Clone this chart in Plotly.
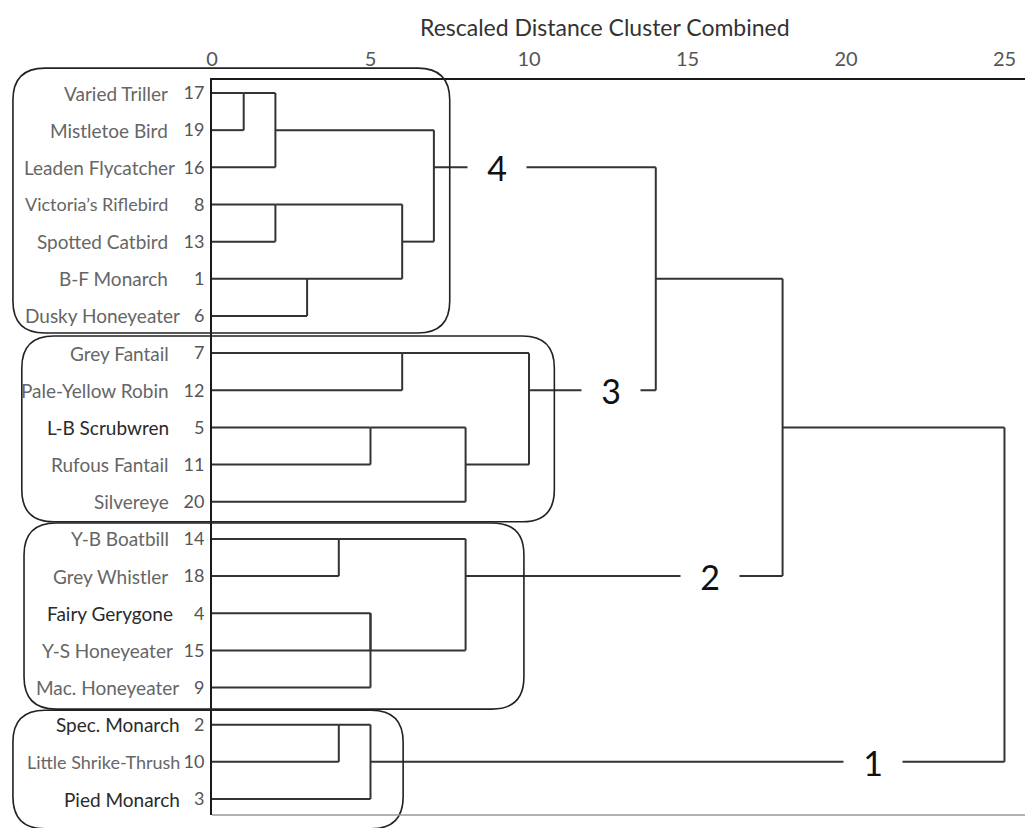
import math
import plotly.graph_objects as go

# ---------------- data ----------------
leaf_ids = [17, 19, 16, 8, 13, 1, 6, 7, 12, 5, 11, 20, 14, 18, 4, 15, 9, 2, 10, 3]
leaf_names = ["Varied Triller", "Mistletoe Bird", "Leaden Flycatcher", "Victoria\u2019s Riflebird",
              "Spotted Catbird", "B-F Monarch", "Dusky Honeyeater", "Grey Fantail",
              "Pale-Yellow Robin", "L-B Scrubwren", "Rufous Fantail", "Silvereye",
              "Y-B Boatbill", "Grey Whistler", "Fairy Gerygone", "Y-S Honeyeater",
              "Mac. Honeyeater", "Spec. Monarch", "Little Shrike-Thrush", "Pied Monarch"]
dark_names = ["L-B Scrubwren", "Fairy Gerygone", "Spec. Monarch", "Pied Monarch"]

# agglomeration schedule: leaves are 0..19 in display order, merge k creates node 20+k
merge_a = [0, 20, 3, 5, 22, 21, 7, 9, 27, 26, 12, 14, 31, 30, 17, 34, 25, 36, 37]
merge_b = [1, 2, 4, 6, 23, 24, 8, 10, 11, 28, 13, 15, 16, 32, 18, 19, 29, 33, 35]
merge_d = [1, 2, 2, 3, 6, 7, 6, 5, 8, 10, 4, 5, 5, 8, 4, 5, 14, 18, 25]

cluster_nodes = [25, 29, 33, 35]
cluster_labels = ["4", "3", "2", "1"]
cluster_label_x = [9.0, 12.6, 15.7, 20.85]

x_ticks = [0, 5, 10, 15, 20, 25]

# ---------------- styling / layout ----------------
# right edge (window px) of each leaf name
name_end_px = [170, 170, 177, 170, 170, 170, 182, 171, 171, 171, 171, 171,
               171, 170, 175, 175, 181, 182, 182, 182]

# cluster boxes (distance units / row units)
box_x0 = [-6.28, -6.0, -5.93, -6.28]
box_x1 = [7.5, 10.8, 9.84, 6.03]
box_y0 = [-0.67, 6.54, 11.57, 16.61]
box_y1 = [6.46, 11.54, 16.58, 19.8]

OFF = 8  # page body margin
W, H = 1033 - OFF, 828 - OFF
ML, MR, MT, MB = 212 - OFF, 0, 80 - OFF, 13
XR = [0, 25.9]
YR = [19.43, -0.35]

n = len(leaf_ids)
row = {i: i for i in range(n)}
hgt = {i: 0 for i in range(n)}
xs, ys = [], []
for k, (a, b, d) in enumerate(zip(merge_a, merge_b, merge_d)):
    node = n + k
    for c in (a, b):
        xs += [hgt[c], d, None]
        ys += [row[c], row[c], None]
    xs += [d, d, None]
    ys += [row[a], row[b], None]
    row[node] = math.floor((row[a] + row[b]) / 2)
    hgt[node] = d

fig = go.Figure()
fig.add_trace(go.Scatter(x=xs, y=ys, mode="lines",
                         line=dict(color="#333333", width=2),
                         hoverinfo="skip", showlegend=False))

pw = W - ML - MR
ph = H - MT - MB


def xp(x):
    return (x - XR[0]) / (XR[1] - XR[0])


def yp(y):
    return (y - YR[0]) / (YR[1] - YR[0])


def px_to_paper_x(px):
    return (px - OFF - ML) / pw


def px_to_paper_y(py):
    return (H - MB - (py - OFF)) / ph


shapes = []
r = 32
rx, ry = r / pw, r / ph
for x0, x1, y0, y1 in zip(box_x0, box_x1, box_y0, box_y1):
    L, R_ = xp(x0), xp(x1)
    T, B = yp(y0), yp(y1)  # T > B in paper coords
    path = (f"M {L+rx},{T} L {R_-rx},{T} Q {R_},{T} {R_},{T-ry} "
            f"L {R_},{B+ry} Q {R_},{B} {R_-rx},{B} "
            f"L {L+rx},{B} Q {L},{B} {L},{B+ry} "
            f"L {L},{T-ry} Q {L},{T} {L+rx},{T} Z")
    shapes.append(dict(type="path", path=path, xref="paper", yref="paper",
                       line=dict(color="#222222", width=1.6), fillcolor="rgba(0,0,0,0)",
                       layer="above"))

shapes.append(dict(type="line", xref="paper", yref="paper", x0=0, x1=1, y0=0, y1=0,
                   line=dict(color="#9a9a9a", width=1.5)))

annotations = []
for i, (name, end) in enumerate(zip(leaf_names, name_end_px)):
    fsize = 18 if len(name) > 19 else 19
    annotations.append(dict(x=px_to_paper_x(end), xref="paper", y=i, yref="y",
                            text=name, showarrow=False, xanchor="right", yanchor="middle",
                            font=dict(family="Lato", size=fsize,
                                      color="#2a2a2a" if name in dark_names else "#666666")))

for node, lab, lx in zip(cluster_nodes, cluster_labels, cluster_label_x):
    annotations.append(dict(x=lx, xref="x", y=row[node], yref="y", text=lab,
                            showarrow=False, xanchor="center", yanchor="middle",
                            bgcolor="white", width=56, height=34,
                            font=dict(family="Lato", size=34, color="#111111")))

annotations.append(dict(x=px_to_paper_x(605), xref="paper", y=px_to_paper_y(27), yref="paper",
                        text="Rescaled Distance Cluster Combined", showarrow=False,
                        xanchor="center", yanchor="middle",
                        font=dict(family="Lato", size=23, color="#333333")))

fig.update_layout(
    width=W, height=H,
    margin=dict(l=ML, r=MR, t=MT, b=MB, autoexpand=False),
    paper_bgcolor="white", plot_bgcolor="white",
    shapes=shapes, annotations=annotations,
    xaxis=dict(side="top", range=XR, tickvals=x_ticks, ticktext=[str(t) for t in x_ticks],
               showgrid=False, zeroline=False, showline=True, linecolor="#1a1a1a",
               linewidth=2, ticks="", ticklabelstandoff=4, automargin=False,
               tickfont=dict(family="Lato", size=20, color="#555555")),
    yaxis=dict(range=YR, tickvals=list(range(n)), ticktext=[str(v) for v in leaf_ids],
               showgrid=False, zeroline=False, showline=True, linecolor="#1a1a1a",
               linewidth=2, ticks="", ticklabelstandoff=2, automargin=False,
               tickfont=dict(family="Lato", size=18, color="#555555")),
)

fig.write_html("out.html")
